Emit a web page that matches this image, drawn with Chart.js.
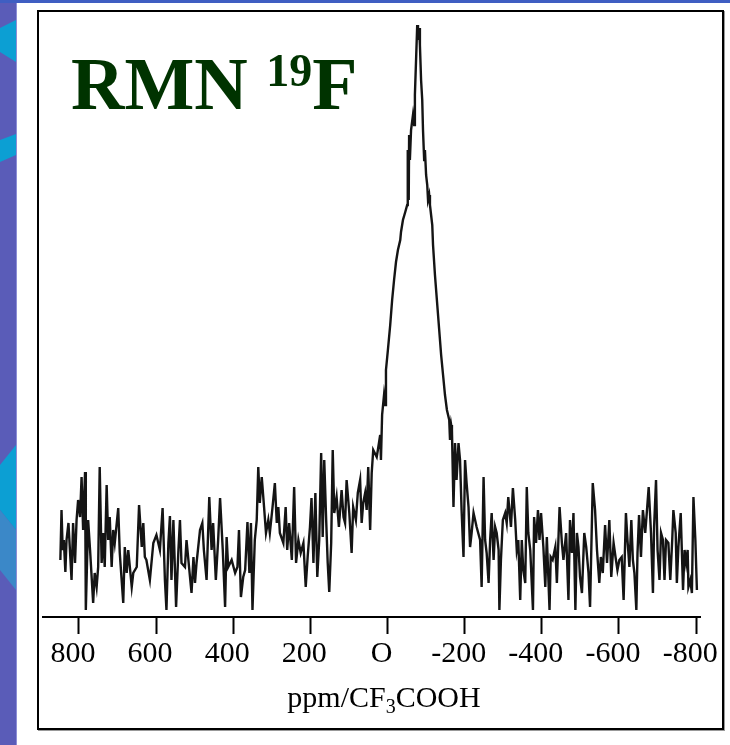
<!DOCTYPE html>
<html>
<head>
<meta charset="utf-8">
<script src="https://cdn.jsdelivr.net/npm/chart.js@4/dist/chart.umd.min.js"></script>
<style>
    html, body { margin: 0; padding: 0; background: #fff; }
    #page { position: relative; width: 730px; height: 745px; overflow: hidden; background: #fff; }
    #strip { position: absolute; left: 0; top: 0; width: 16px; height: 745px; background: #5a5cb8; border-right: 1px solid #8c8ed6; }
    .band { position: absolute; left: 0; top: 0; width: 16px; height: 745px; }
    #topbar { position: absolute; left: 0; top: 0; width: 730px; height: 3px; background: #3f5ec2; }
    #frame { position: absolute; left: 37px; top: 10px; width: 683px; height: 716px; border: 2px solid #000; box-shadow: 1px 1px 0 #999; }
    #nmr { position: absolute; left: 0; top: 0; }
    #title { position: absolute; left: 71px; top: 47px; font-family: "Liberation Serif", "Times New Roman", serif; font-weight: bold; font-size: 74px; line-height: 74px; color: #003300; white-space: nowrap; }
    #title .sup { font-size: 46px; position: relative; top: -23px; }
</style>
</head>
<body>
<div id="page">
    <div id="strip">
        <div class="band" style="background:#0c9fd3; clip-path: polygon(0 28px, 16px 20px, 16px 62px, 0 52px);"></div>
        <div class="band" style="background:#0c9fd3; clip-path: polygon(0 140px, 16px 134px, 16px 155px, 0 162px);"></div>
        <div class="band" style="background:#0c9fd3; clip-path: polygon(0 465px, 16px 445px, 16px 530px, 0 510px);"></div>
        <div class="band" style="background:#3b88c8; clip-path: polygon(0 510px, 16px 530px, 16px 590px, 0 570px);"></div>
    </div>
    <div id="topbar"></div>
    <div id="frame"></div>
    <canvas id="nmr" width="730" height="745"></canvas>
    <div id="title">RMN <span class="sup">19</span>F</div>
</div>

<script>
// chemical shift (ppm vs CF3COOH)
const shiftPpm = [
    848, 845, 842, 839, 835, 832, 827, 819, 815, 810, 806, 802, 797, 793, 789, 784, 782, 776, 771, 763,
    759, 754, 750, 746, 741, 737, 733, 728, 724, 720, 715, 711, 707, 698, 694, 685, 681, 676, 672, 663,
    659, 650, 644, 637, 633, 629, 625, 616, 607, 599, 590, 583, 577, 573, 568, 564, 560, 555, 548, 542,
    538, 534, 525, 521, 512, 508, 503, 499, 495, 486, 480, 476, 469, 462, 456, 452, 445, 439, 434, 427,
    421, 417, 413, 404, 395, 389, 385, 380, 374, 369, 363, 358, 354, 350, 344, 339, 335, 331, 326, 320,
    315, 309, 305, 298, 292, 287, 283, 279, 270, 264, 260, 255, 248, 242, 237, 231, 225, 218, 212, 207,
    201, 197, 192, 187, 182, 177, 172, 168, 164, 159, 155, 151, 146, 142, 138, 132, 126, 119, 114, 110,
    106, 99, 93, 89, 82, 77, 71, 67, 63, 58, 54, 50, 45, 41, 37, 28,
    25, 19, 17, 14, 9, 6, 4, -1, -7, -12, -17, -22, -27, -33, -35, -40, -46, -51, -52, -53,
    -55, -56, -58, -61, -66, -69, -71, -74, -77, -79, -82, -84, -87, -90, -92, -95, -97, -100, -103, -105,
    -108, -110, -113, -116, -118, -123, -128, -134, -139, -144, -149, -154, -160, -162, -165,
    -167, -171, -175, -179, -184, -188, -192, -197, -201, -205, -210, -214, -218, -223, -231, -240, -244, -249, -253, -257,
    -262, -266, -270, -275, -279, -283, -288, -290, -294, -299, -305, -309, -313, -320, -325, -331, -335, -339, -344, -348,
    -352, -357, -361, -365, -370, -377, -380, -385, -390, -394, -398, -404, -409, -413, -420, -423, -428, -435, -439, -446,
    -452, -456, -463, -469, -473, -478, -482, -487, -491, -495, -499, -504, -510, -515, -521, -525, -532, -538, -543, -549,
    -553, -558, -564, -569, -575, -580, -586, -591, -596, -601, -607, -612, -618, -622, -627, -632, -636, -640, -645, -648,
    -652, -657, -662, -668, -672, -677, -683, -688, -691, -696, -700, -705, -709, -714, -718, -722, -728, -733, -738, -741,
    -747, -750, -754, -760, -766, -770, -774, -778, -780, -785, -789, -793, -798, -802
];

// signal intensity (arbitrary units, 0 = baseline axis)
const intensity = [
    57, 107, 67, 77, 45, 77, 94, 37, 94, 54, 97, 117, 100, 140, 87, 145, 7, 97, 67, 14,
    44, 30, 50, 150, 54, 84, 50, 132, 77, 100, 50, 87, 74, 109, 64, 14, 70, 44, 67, 30,
    44, 50, 112, 70, 94, 60, 57, 37, 74, 82, 67, 109, 37, 7, 74, 101, 37, 97, 10, 67,
    97, 54, 50, 77, 40, 24, 60, 34, 54, 87, 94, 67, 37, 120, 67, 94, 37, 77, 119, 67,
    10, 80, 50, 57, 44, 50, 87, 20, 40, 47, 95, 44, 94, 7, 77, 97, 150, 114, 140, 110,
    84, 97, 84, 110, 134, 94, 110, 84, 74, 110, 67, 94, 57, 130, 54, 77, 64, 74, 30, 60,
    90, 119, 54, 124, 40, 77, 164, 80, 157, 97, 54, 25, 74, 167, 104, 120, 90, 127, 100, 94,
    137, 104, 64, 110, 97, 124, 137, 94, 114, 124, 107, 150, 87, 144, 167, 160,
    167, 182, 157, 202, 222, 212, 247, 267, 292, 317, 337, 355, 367, 377, 385, 397, 405, 412, 467, 437,
    417, 482, 457, 487, 502, 492, 522, 557, 592, 577, 589, 572, 537, 517, 487, 457, 467, 442, 432, 417,
    422, 412, 402, 392, 372, 342, 317, 287, 262, 242, 222, 207, 197, 177, 192,
    187, 110, 174, 137, 174, 157, 107, 60, 157, 134, 110, 70, 84, 104, 90, 77, 30, 140, 77, 64,
    34, 77, 104, 57, 90, 84, 67, 7, 57, 97, 104, 94, 120, 90, 129, 97, 67, 77, 17, 77,
    47, 34, 130, 84, 67, 7, 100, 74, 107, 77, 104, 70, 30, 80, 7, 60, 57, 70, 34, 110,
    74, 57, 84, 17, 97, 64, 104, 7, 84, 70, 40, 24, 84, 70, 44, 10, 134, 107, 67, 34,
    60, 44, 92, 54, 97, 40, 74, 60, 47, 57, 60, 17, 104, 77, 50, 97, 57, 44, 7, 64,
    102, 60, 107, 84, 104, 130, 84, 24, 90, 137, 67, 37, 84, 77, 37, 77, 74, 37, 77, 107,
    84, 34, 70, 104, 27, 67, 54, 67, 30, 37, 24, 120, 77, 27
];

const tickValues = [800, 600, 400, 200, 0, -200, -400, -600, -800];
const axisTitle = ["ppm/CF", "3", "COOH"];

const serif = '"Liberation Serif", "Times New Roman", serif';

// x axis title with a subscript 3, drawn under the tick labels
const axisTitlePlugin = {
    id: "axisTitlePlugin",
    afterDraw: (chart) => {
        const { ctx } = chart;
        const big = "30px " + serif;
        const small = "20px " + serif;
        ctx.save();
        ctx.fillStyle = "#000";
        ctx.textBaseline = "alphabetic";
        ctx.font = big;
        const w1 = ctx.measureText(axisTitle[0]).width;
        const w3 = ctx.measureText(axisTitle[2]).width;
        ctx.font = small;
        const w2 = ctx.measureText(axisTitle[1]).width;
        let x = 384 - (w1 + w2 + w3) / 2;
        const y = 707;
        ctx.font = big;
        ctx.fillText(axisTitle[0], x, y);
        x += w1;
        ctx.font = small;
        ctx.fillText(axisTitle[1], x, y + 6);
        x += w2;
        ctx.font = big;
        ctx.fillText(axisTitle[2], x, y);
        ctx.restore();
    },
};

const ctx = document.getElementById("nmr").getContext("2d");
new Chart(ctx, {
    type: "line",
    data: {
        datasets: [
            {
                label: "RMN 19F",
                data: shiftPpm.map((p, i) => ({ x: p, y: intensity[i] })),
                borderColor: "#141414",
                borderWidth: 2.4,
                pointRadius: 0,
                tension: 0,
                fill: false,
            },
        ],
    },
    options: {
        responsive: false,
        animation: false,
        events: [],
        layout: {
            padding: { left: 43, right: 30, top: 11, bottom: 68 },
        },
        scales: {
            x: {
                type: "linear",
                reverse: true,
                min: -810,
                max: 893,
                afterBuildTicks: (scale) => {
                    scale.ticks = tickValues.map((v) => ({ value: v }));
                },
                afterFit: (scale) => {
                    scale.height = 60;
                },
                grid: {
                    drawOnChartArea: false,
                    drawTicks: true,
                    tickLength: 17,
                    tickWidth: 2,
                    tickColor: "#000",
                },
                border: { display: true, color: "#000", width: 2 },
                ticks: {
                    color: "#000",
                    padding: 2,
                    labelOffset: -6,
                    maxRotation: 0,
                    autoSkip: false,
                    font: { family: serif, size: 30 },
                    callback: (value) => (value === 0 ? "O" : String(value)),
                },
            },
            y: {
                display: false,
                min: 0,
                max: 606,
            },
        },
        plugins: {
            legend: { display: false },
            tooltip: { enabled: false },
        },
    },
    plugins: [axisTitlePlugin],
});
</script>
</body>
</html>
